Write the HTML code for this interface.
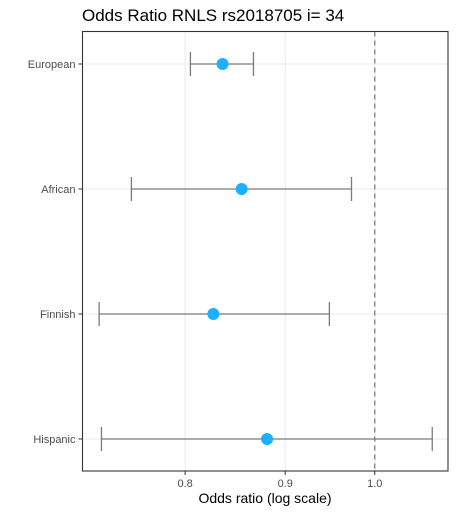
<!DOCTYPE html>
<html><head><meta charset="utf-8"><style>body{margin:0;background:#fff}svg{display:block;font-family:"Liberation Sans",Arial,sans-serif}</style></head>
<body>
<svg id="chart" width="456" height="514" xmlns="http://www.w3.org/2000/svg">
<text x="82" y="21" font-size="17" fill="#000">Odds Ratio RNLS rs2018705 i= 34</text>
<g id="plot"></g>
<text x="265" y="503" font-size="14" text-anchor="middle" fill="#000">Odds ratio (log scale)</text>
</svg>
<script>
const categories = ["European","African","Finnish","Hispanic"];
const estimates = [0.836,0.855,0.827,0.881];
const lower = [0.805,0.751,0.723,0.725];
const upper = [0.867,0.973,0.948,1.070];
const xTicks = [0.8,0.9,1.0];
const xTickLabels = ["0.8","0.9","1.0"];
const refLine = 1.0;

const L=82.5,R=448,T=31.5,B=471;
const dMin=0.709,dMax=1.090;
const x=v=>L+(Math.log(v)-Math.log(dMin))/(Math.log(dMax)-Math.log(dMin))*(R-L);
const y=i=>64+i*125;
const g=document.getElementById('plot');
const NS="http://www.w3.org/2000/svg";
function mk(t,a){const e=document.createElementNS(NS,t);for(const k in a)e.setAttribute(k,a[k]);g.appendChild(e);return e;}
xTicks.forEach((t,i)=>{
 const gl=mk('line',{x1:x(t),x2:x(t),y1:T,y2:B,stroke:'#ebebeb','stroke-width':1.1});
 
 
});
categories.forEach((c,i)=>{
 const gl=mk('line',{x1:L,x2:R,y1:y(i),y2:y(i),stroke:'#ebebeb','stroke-width':1.1});
 
 
});
const rl=mk('line',{x1:x(refLine),x2:x(refLine),y1:T,y2:B,stroke:'#7f7f7f','stroke-width':1.3,'stroke-dasharray':'5,4'});


categories.forEach((c,i)=>{
 const yy=y(i);
 const eb=mk('path',{d:`M${x(lower[i])},${yy}H${x(upper[i])}M${x(lower[i])},${yy-12}V${yy+12}M${x(upper[i])},${yy-12}V${yy+12}`,stroke:'#7a7a7a','stroke-width':1.3,fill:'none'});
 
 
 const p=mk('circle',{cx:x(estimates[i]),cy:yy,r:6,fill:'#1ab2ff'});
 
 
 const tk=mk('line',{x1:L-4,x2:L,y1:yy,y2:yy,stroke:'#333','stroke-width':1});
 
 
 const lb=mk('text',{x:L-7,y:yy+4,'font-size':11,'text-anchor':'end',fill:'#4d4d4d'});
 lb.textContent=c;
 
 
});
xTicks.forEach((t,i)=>{
 const tk=mk('line',{x1:x(t),x2:x(t),y1:B,y2:B+4,stroke:'#333','stroke-width':1});
 
 
 const lb=mk('text',{x:x(t),y:B+16,'font-size':11,'text-anchor':'middle',fill:'#4d4d4d'});
 lb.textContent=xTickLabels[i];
 
 
});
const fr=mk('rect',{x:L,y:T,width:R-L,height:B-T,fill:'none',stroke:'#333','stroke-width':1.1});


</script>
</body></html>
